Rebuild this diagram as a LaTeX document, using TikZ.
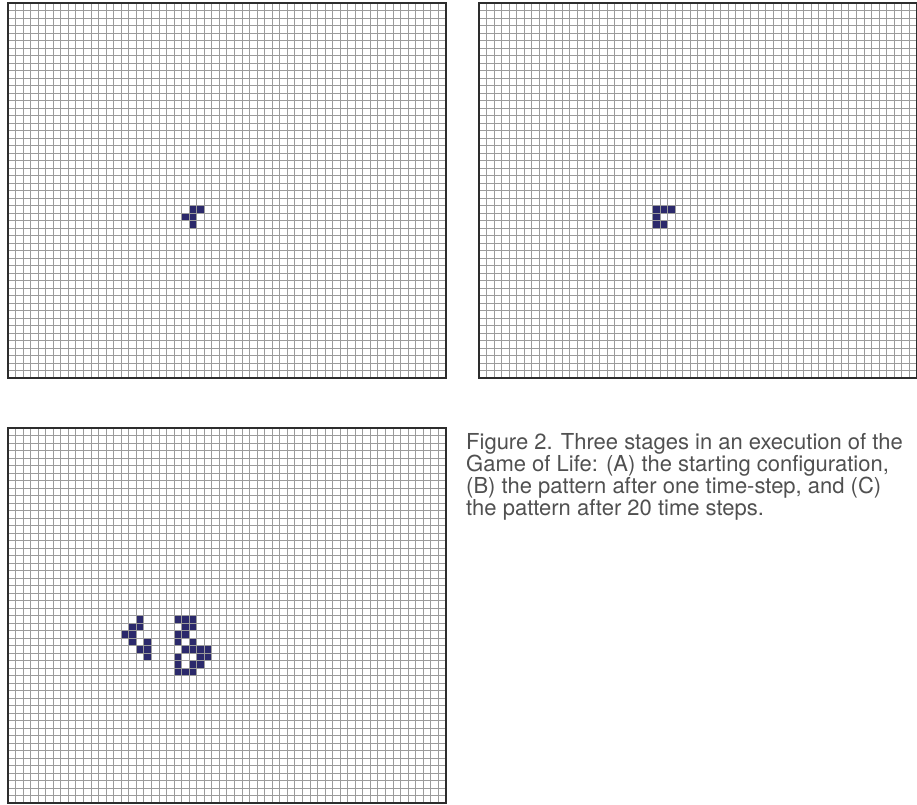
\documentclass[tikz,border=0pt]{standalone}
\usepackage{fontspec}
\setmainfont{TeX Gyre Heros}
\definecolor{cellfill}{RGB}{43,41,107}
\definecolor{gridline}{RGB}{155,155,155}
\definecolor{frameline}{RGB}{45,45,45}
\definecolor{captiontext}{RGB}{80,80,80}

% ---- Game of Life simulation (R-pentomino, 20 generations) ----
\makeatletter
\newcount\gol@r \newcount\gol@c \newcount\gol@s
\def\gol@v#1#2#3{\ifcsname gol#1@\number\numexpr#2\relax @\number\numexpr#3\relax\endcsname\csname gol#1@\number\numexpr#2\relax @\number\numexpr#3\relax\endcsname\else0\fi}
\def\gol@update{%
  \gol@s=\numexpr\gol@v{\gol@src}{\gol@r-1}{\gol@c-1}+\gol@v{\gol@src}{\gol@r-1}{\gol@c}+\gol@v{\gol@src}{\gol@r-1}{\gol@c+1}
    +\gol@v{\gol@src}{\gol@r}{\gol@c-1}+\gol@v{\gol@src}{\gol@r}{\gol@c+1}
    +\gol@v{\gol@src}{\gol@r+1}{\gol@c-1}+\gol@v{\gol@src}{\gol@r+1}{\gol@c}+\gol@v{\gol@src}{\gol@r+1}{\gol@c+1}\relax
  \ifnum\gol@s=3
    \expandafter\gdef\csname gol\gol@dst @\the\gol@r @\the\gol@c\endcsname{1}%
  \else
    \ifnum\gol@s=2
      \expandafter\xdef\csname gol\gol@dst @\the\gol@r @\the\gol@c\endcsname{\gol@v{\gol@src}{\gol@r}{\gol@c}}%
    \else
      \expandafter\gdef\csname gol\gol@dst @\the\gol@r @\the\gol@c\endcsname{0}%
    \fi
  \fi}
\def\gol@cols{\ifnum\gol@c<58 \gol@update\advance\gol@c1 \expandafter\gol@cols\fi}
\def\gol@rows{\ifnum\gol@r<50 \gol@c=0 \gol@cols\advance\gol@r1 \expandafter\gol@rows\fi}
\def\gol@step#1#2{\def\gol@src{#1}\def\gol@dst{#2}\gol@r=0 \gol@rows}
\@namedef{golL@27@24}{1}\@namedef{golL@27@25}{1}
\@namedef{golL@28@23}{1}\@namedef{golL@28@24}{1}
\@namedef{golL@29@24}{1}
\gol@step{L}{N}\gol@step{N}{L}\gol@step{L}{N}\gol@step{N}{L}
\gol@step{L}{N}\gol@step{N}{L}\gol@step{L}{N}\gol@step{N}{L}
\gol@step{L}{N}\gol@step{N}{L}\gol@step{L}{N}\gol@step{N}{L}
\gol@step{L}{N}\gol@step{N}{L}\gol@step{L}{N}\gol@step{N}{L}
\gol@step{L}{N}\gol@step{N}{L}\gol@step{L}{N}\gol@step{N}{L}
\makeatother

\tikzset{
  gridstroke/.style={draw=gridline, line width=1pt},
  framestroke/.style={draw=frameline, line width=1.2pt},
  captionstyle/.style={text=captiontext, align=left, inner sep=0pt,
    font=\fontsize{22}{22}\selectfont},
}

% grid of 58 x 50 cells, origin #1,#2 (top left)
\newcommand\lifegrid[2]{%
  \foreach \k in {1,...,57}{\draw[gridstroke] ({#1+\k*7.55},#2) -- ({#1+\k*7.55},{#2+375});}
  \foreach \k in {1,...,49}{\draw[gridstroke] (#1,{#2+\k*7.5}) -- ({#1+437.9},{#2+\k*7.5});}
  \draw[framestroke] (#1,#2) rectangle ({#1+437.9},{#2+375});
}
% live cell: origin x, origin y, row, column
\newcommand\lifecell[4]{\fill[cellfill] ({#1+#4*7.55},{#2+#3*7.5}) rectangle ++(7.55,7.5);}

\begin{document}
\begin{tikzpicture}[x=1pt,y=-1pt]
\useasboundingbox (0,0) rectangle (917,804);

% (A) starting configuration
\lifecell{8}{3}{27}{24}\lifecell{8}{3}{27}{25}
\lifecell{8}{3}{28}{23}\lifecell{8}{3}{28}{24}
\lifecell{8}{3}{29}{24}
\lifegrid{8}{3}

% (B) after one time step
\lifecell{479}{3}{27}{23}\lifecell{479}{3}{27}{24}\lifecell{479}{3}{27}{25}
\lifecell{479}{3}{28}{23}
\lifecell{479}{3}{29}{23}\lifecell{479}{3}{29}{24}
\lifegrid{479}{3}

% (C) after 20 time steps
\foreach \ri in {0,...,49}{\foreach \ci in {0,...,57}{%
  \ifnum\csname golL@\ri @\ci\endcsname=1 \lifecell{8}{428}{\ri}{\ci}\fi}}
\lifegrid{8}{428}

\node[captionstyle, anchor=north west] (caption) at (466,433)
  {Figure 2. Three stages in an execution of the\\
   Game of Life: (A) the starting configuration,\\
   (B) the pattern after one time-step, and (C)\\
   the pattern after 20 time steps.};
\end{tikzpicture}
\end{document}
